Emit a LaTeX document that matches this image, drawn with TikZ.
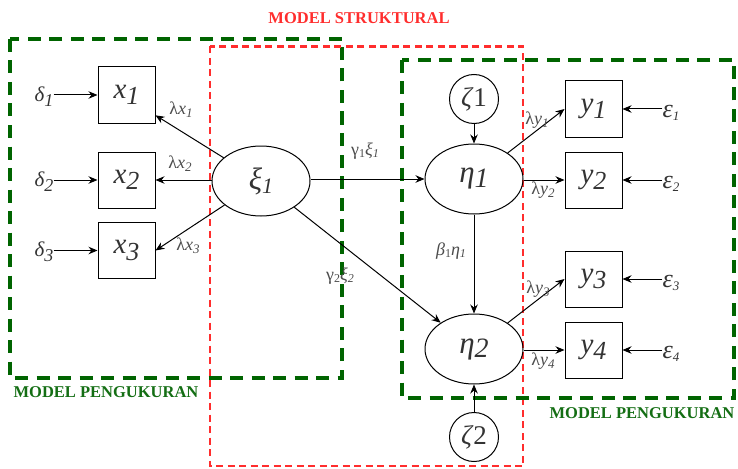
\documentclass[tikz,border=0pt]{standalone}
\usepackage{fontspec}
\setmainfont{Liberation Serif}
\usetikzlibrary{arrows.meta,shapes.geometric}
\definecolor{boxgreen}{RGB}{0,100,0}
\definecolor{txtgreen}{RGB}{20,110,20}
\definecolor{boxred}{RGB}{255,45,45}
\newcommand\fs[1]{\fontsize{#1}{#1}\selectfont}
% lowered index: drop, size, text
\newcommand\dn[3]{\raisebox{-#1}{\fs{#2}#3}}
\begin{document}
\begin{tikzpicture}[x=1pt,y=-1pt,
  obs/.style={draw, line width=1pt, minimum width=57pt, minimum height=56pt,
    inner sep=0pt, text=black!80, font=\fs{29}\itshape},
  lat/.style={draw, ellipse, line width=1pt, minimum width=98pt, minimum height=70pt,
    inner sep=0pt, text=black!80, font=\fs{31}\itshape},
  dist/.style={draw, circle, line width=1pt, minimum size=49pt, inner sep=0pt,
    text=black!80, font=\fs{27}},
  errlbl/.style={inner sep=0pt, text=black!80},
  lbl/.style={inner sep=0pt, text=black!70, font=\fs{18}},
  arr/.style={-{Stealth[length=9pt,width=7.5pt]}, line width=1pt},
  greenbox/.style={draw=boxgreen, line width=3.5pt, dash pattern=on 13pt off 8.5pt},
  redbox/.style={draw=boxred, line width=2.3pt, dash pattern=on 7pt off 4.5pt},
  title/.style={inner sep=0pt, font=\fs{16.5}\bfseries}]
\useasboundingbox (0,0) rectangle (738,468);

% dashed frames of the measurement and structural parts
\draw[greenbox] (10,39) rectangle (342,378);
\draw[redbox] (210,46.5) rectangle (523,466);
\draw[greenbox] (402,60) rectangle (734,398);

\node[title, text=boxred] (ts) at (359,18) {MODEL STRUKTURAL};
\node[title, text=txtgreen] (tl) at (106,392) {MODEL PENGUKURAN};
\node[title, text=txtgreen] (tr) at (642,413) {MODEL PENGUKURAN};

% indicators of the exogenous construct
\node[obs] (x1) at (126.5,95) {x\dn{6.5pt}{26}{1}};
\node[obs] (x2) at (126.5,180) {x\dn{6.5pt}{26}{2}};
\node[obs] (x3) at (126.5,250.5) {x\dn{6.5pt}{26}{3}};

% latent constructs
\node[lat] (xi) at (261,181) {ξ\dn{4pt}{22}{1}};
\node[lat] (eta1) at (474,179) {η\dn{5pt}{28}{1}};
\node[lat] (eta2) at (474,349) {η\dn{5pt}{28}{2}};

% disturbances
\node[dist] (z1) at (474,99) {\textit{ζ}1};
\node[dist] (z2) at (474,437) {\textit{ζ}2};

% indicators of the endogenous constructs
\node[obs] (y1) at (593.5,109) {y\dn{6.5pt}{26}{1}};
\node[obs] (y2) at (593.5,180) {y\dn{6.5pt}{26}{2}};
\node[obs] (y3) at (593.5,279) {y\dn{6.5pt}{26}{3}};
\node[obs] (y4) at (593.5,350) {y\dn{6.5pt}{26}{4}};

% measurement errors
\node[errlbl, font=\fs{21}\itshape] (d1) at (44,97) {δ\dn{5pt}{18}{1}};
\node[errlbl, font=\fs{21}\itshape] (d2) at (44,182) {δ\dn{5pt}{18}{2}};
\node[errlbl, font=\fs{21}\itshape] (d3) at (44,252) {δ\dn{5pt}{18}{3}};
\node[errlbl, font=\fs{26}\itshape] (e1) at (671,113) {ε\dn{3pt}{13}{1}};
\node[errlbl, font=\fs{26}\itshape] (e2) at (671,184) {ε\dn{3pt}{13}{2}};
\node[errlbl, font=\fs{26}\itshape] (e3) at (671,283) {ε\dn{3pt}{13}{3}};
\node[errlbl, font=\fs{26}\itshape] (e4) at (671,354) {ε\dn{3pt}{13}{4}};

\draw[arr] (d1.east |- x1.west) -- (x1.west);
\draw[arr] (d2.east |- x2.west) -- (x2.west);
\draw[arr] (d3.east |- x3.west) -- (x3.west);
\draw[arr] (e1.west |- y1.east) -- (y1.east);
\draw[arr] (e2.west |- y2.east) -- (y2.east);
\draw[arr] (e3.west |- y3.east) -- (y3.east);
\draw[arr] (e4.west |- y4.east) -- (y4.east);

% loadings
\draw[arr] (xi) -- (x1.-35);
\draw[arr] (xi.west |- x2.east) -- (x2.east);
\draw[arr] (xi) -- (x3.east);
\draw[arr] (eta1) -- (y1.west);
\draw[arr] (eta1.east |- y2.west) -- (y2.west);
\draw[arr] (eta2) -- (y3.west);
\draw[arr] (eta2.east |- y4.west) -- (y4.west);

% structural paths
\draw[arr] (xi.east |- eta1.west) -- (eta1.west);
\draw[arr] (xi) -- (eta2);
\draw[arr] (eta1) -- (eta2);
\draw[arr] (z1) -- (eta1);
\draw[arr] (z2) -- (eta2);

% path labels
\node[lbl] (lx1) at (181,110) {λ\textit{x}\dn{3pt}{13}{\textit{1}}};
\node[lbl] (lx2) at (180,164) {λ\textit{x}\dn{3pt}{13}{\textit{2}}};
\node[lbl] (lx3) at (188,246) {λ\textit{x}\dn{3pt}{13}{\textit{3}}};
\node[lbl] (g1) at (365,151) {γ\dn{2pt}{12}{1}\textit{ξ}\dn{2pt}{12}{\textit{1}}};
\node[lbl] (g2) at (340,276) {γ\dn{2pt}{12}{2}\textit{ξ}\dn{2pt}{12}{\textit{2}}};
\node[lbl] (b1) at (451,251) {\textit{β}\dn{2pt}{12}{1}\textit{η}\dn{2pt}{12}{\textit{1}}};
\node[lbl] (ly1) at (537,120) {λ\textit{y}\dn{3pt}{13}{\textit{1}}};
\node[lbl] (ly2) at (543,190) {λ\textit{y}\dn{3pt}{13}{\textit{2}}};
\node[lbl] (ly3) at (538,289) {λ\textit{y}\dn{3pt}{13}{\textit{3}}};
\node[lbl] (ly4) at (543,361) {λ\textit{y}\dn{3pt}{13}{\textit{4}}};
\end{tikzpicture}
\end{document}
